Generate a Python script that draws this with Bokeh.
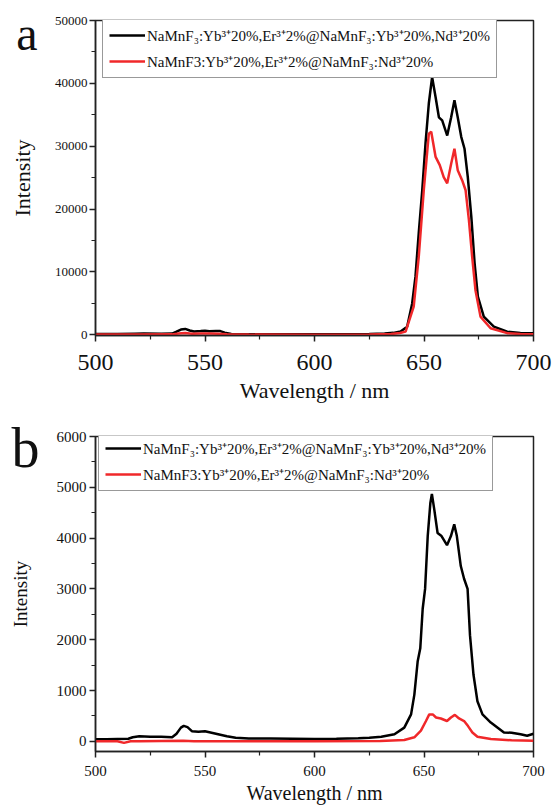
from bokeh.plotting import figure
from bokeh.models import (Range1d, FixedTicker, Legend, LegendItem, LinearAxis)
from bokeh.layouts import column
from bokeh.embed import file_html
from bokeh.resources import INLINE

# ---------------- data ----------------
x_ticks = [500, 550, 600, 650, 700]
x_minor = [525, 575, 625, 675]

a_y_ticks = [0, 10000, 20000, 30000, 40000, 50000]
a_y_minor = [5000, 15000, 25000, 35000, 45000]
b_y_ticks = [0, 1000, 2000, 3000, 4000, 5000, 6000]
b_y_minor = [500, 1500, 2500, 3500, 4500, 5500]

label_1 = "NaMnF\u2083:Yb\u00b3\u207a20%,Er\u00b3\u207a2%@NaMnF\u2083:Yb\u00b3\u207a20%,Nd\u00b3\u207a20%"
label_2 = "NaMnF3:Yb\u00b3\u207a20%,Er\u00b3\u207a2%@NaMnF\u2083:Nd\u00b3\u207a20%"

a_black_wl = [500, 510, 518, 522, 530, 535, 537, 539, 541, 543, 545, 548, 550, 552, 555, 557, 559, 562,
              570, 590, 610, 625, 632, 636, 639.3, 642.3, 644.6, 646.1, 647.6, 649.2, 650.7, 652.2, 653.7,
              655.3, 656.8, 658.3, 660.6, 662.4, 663.9, 665.4, 667, 668.5, 670, 671.6, 673.1, 674.6,
              677.3, 681.9, 688, 694, 700]
a_black_i = [120, 130, 180, 200, 170, 200, 500, 850, 950, 700, 550, 600, 650, 580, 620, 600, 350, 150,
             100, 90, 90, 120, 200, 320, 520, 1300, 5000, 9250, 16200, 23000, 30500, 36800, 41000,
             37800, 34600, 34100, 31700, 34600, 37300, 34600, 31500, 29600, 25100, 18800, 11400, 6100,
             2900, 1300, 500, 300, 250]

a_red_wl = [500, 520, 535, 538, 541, 544, 548, 552, 556, 560, 570, 600, 625, 635, 639, 641.6, 645.3,
            647.6, 649.9, 652.2, 653.3, 655.3, 657.2, 659.0, 660.6, 662.4, 663.9, 665.4, 667.4, 669,
            670.5, 672, 673.5, 675.8, 680.4, 688, 694, 700]
a_red_i = [50, 60, 80, 200, 300, 180, 200, 220, 180, 80, 40, 30, 50, 150, 300, 520, 4500,
           12400, 23000, 32000, 32300, 28300, 27000, 25100, 24100, 27200, 29600, 26200, 24600, 23000,
           18300, 12400, 7100, 2900, 1060, 270, 150, 100]

b_black_wl = [500, 505, 510, 515, 517, 520, 525, 530, 535, 537, 539, 540.3, 542, 544, 547, 550, 553,
              556, 560, 564, 570, 580, 590, 600, 610, 620, 625, 630.5, 636.5, 641, 644.1, 645.6, 647.1,
              648.3, 649.4, 650.5, 651.7, 652.9, 653.6, 654.7, 656.2, 658, 660.5, 662.3, 663.8, 665,
              666.8, 668.3, 669.9, 671, 672.6, 674.4, 676.7, 680.5, 686.5, 690, 694.1, 697.1, 700]
b_black_i = [40, 40, 45, 50, 80, 100, 90, 90, 80, 150, 270, 305, 280, 200, 190, 200, 170,
             140, 100, 70, 55, 55, 50, 45, 50, 60, 70, 90, 140, 270, 530, 920, 1570,
             1830, 2610, 3000, 4040, 4690, 4870, 4560, 4100, 4040, 3860, 4040, 4270, 4040,
             3450, 3200, 3000, 2090, 1310, 790, 530, 370, 175, 170, 140, 110, 150]

b_red_wl = [500, 510, 513, 516, 520, 540, 545, 560, 600, 630, 641, 645.6, 648.6, 650.9, 652.4, 654,
            655.5, 657.7, 660.5, 662.3, 664.1, 666, 668.3, 670.1, 672.1, 674.4, 680.5, 690, 700]
b_red_i = [0, 0, -30, 0, 0, 10, 0, 0, 0, 5, 25, 80, 210, 400, 530, 530,
           470, 450, 400, 470, 520, 450, 400, 300, 175, 90, 45, 20, 10]

BLACK = "#000000"
RED = "#f0282a"
SERIF = "Liberation Serif, serif"


def style(p, yt, ym, xtick_size, ytick_size, xlab_size):
    p.xaxis.ticker = FixedTicker(ticks=x_ticks, minor_ticks=x_minor)
    p.yaxis.ticker = FixedTicker(ticks=yt, minor_ticks=ym)
    for ax in (p.xaxis[0], p.yaxis[0]):
        ax.axis_line_width = 1.5
        ax.axis_line_color = "#222222"
        ax.major_tick_line_width = 1.5
        ax.minor_tick_line_width = 1.2
        ax.major_tick_line_color = "#222222"
        ax.minor_tick_line_color = "#222222"
        ax.major_tick_in = 0
        ax.major_tick_out = 6
        ax.minor_tick_in = 0
        ax.minor_tick_out = 4
        ax.major_label_text_font = SERIF
        ax.axis_label_text_font = SERIF
        ax.axis_label_text_font_style = "normal"
        ax.major_label_text_color = "#111111"
        ax.axis_label_text_color = "#111111"
    p.xaxis.major_label_text_font_size = xtick_size
    p.yaxis.major_label_text_font_size = ytick_size
    p.xaxis.axis_label_text_font_size = xlab_size
    p.xaxis.axis_label = "Wavelength / nm"
    p.xgrid.visible = False
    p.ygrid.visible = False
    p.outline_line_color = "#222222"
    p.outline_line_width = 1.5
    p.outline_line_alpha = 1.0


def letter_axis(p, tick, letter, letter_size, ylab_size, letter_standoff, label_standoff):
    # outer left axis: carries the panel letter as its only tick label and the "Intensity" title
    ax = LinearAxis(ticker=FixedTicker(ticks=[tick]), major_label_overrides={tick: letter})
    ax.axis_line_color = None
    ax.major_tick_line_color = None
    ax.minor_tick_line_color = None
    ax.major_tick_out = 0
    ax.major_label_standoff = letter_standoff
    ax.major_label_text_font = SERIF
    ax.major_label_text_font_size = letter_size
    ax.major_label_text_color = "#111111"
    ax.axis_label = "Intensity"
    ax.axis_label_text_font = SERIF
    ax.axis_label_text_font_style = "normal"
    ax.axis_label_text_font_size = ylab_size
    ax.axis_label_text_color = "#111111"
    ax.axis_label_standoff = label_standoff
    p.add_layout(ax, "left")


# ---------------- panel a ----------------
pa = figure(width=553, height=414, output_backend="svg", toolbar_location=None,
            x_range=Range1d(500, 700), y_range=Range1d(-100, 50000),
            min_border_left=95, min_border_right=20, min_border_top=20, min_border_bottom=79)
style(pa, a_y_ticks, a_y_minor, "24px", "13px", "22px")
pa.xaxis.major_label_standoff = 13
pa.xaxis.axis_label_standoff = 5
pa.yaxis.major_label_standoff = 2
letter_axis(pa, 49950, "a", "48px", "22px", 14, -22)

ra1 = pa.line(a_black_wl, a_black_i, line_color=BLACK, line_width=2.5)
ra2 = pa.line(a_red_wl, a_red_i, line_color=RED, line_width=2.5)

leg_a = Legend(items=[LegendItem(label=label_1, renderers=[ra1]),
                      LegendItem(label=label_2, renderers=[ra2])],
               location=(7, 257))
pa.add_layout(leg_a)

# ---------------- panel b ----------------
pb = figure(width=553, height=392, output_backend="svg", toolbar_location=None,
            x_range=Range1d(500, 700), y_range=Range1d(-200, 6000),
            min_border_left=93, min_border_right=20, min_border_top=22, min_border_bottom=52)
style(pb, b_y_ticks, b_y_minor, "15px", "15px", "20px")
pb.xaxis.major_label_standoff = 8
pb.xaxis.axis_label_standoff = 3
pb.yaxis.major_label_standoff = 3
letter_axis(pb, 5880, "b", "56px", "19px", 14, -22)

rb1 = pb.line(b_black_wl, b_black_i, line_color=BLACK, line_width=2.5)
rb2 = pb.line(b_red_wl, b_red_i, line_color=RED, line_width=2.5)

leg_b = Legend(items=[LegendItem(label=label_1, renderers=[rb1]),
                      LegendItem(label=label_2, renderers=[rb2])],
               location=(3, 260))
pb.add_layout(leg_b)

for lg in (leg_a, leg_b):
    lg.label_text_font = SERIF
    lg.label_text_font_size = "15px"
    lg.label_text_color = "#111111"
    lg.glyph_width = 36
    lg.glyph_height = 20
    lg.label_height = 20
    lg.label_standoff = 2
    lg.padding = 6
    lg.spacing = 6
    lg.margin = 0
    lg.border_line_color = "#333333"
    lg.border_line_width = 1
    lg.background_fill_alpha = 1.0

layout = column(pa, pb)
open("out.html", "w").write(file_html(layout, INLINE))
